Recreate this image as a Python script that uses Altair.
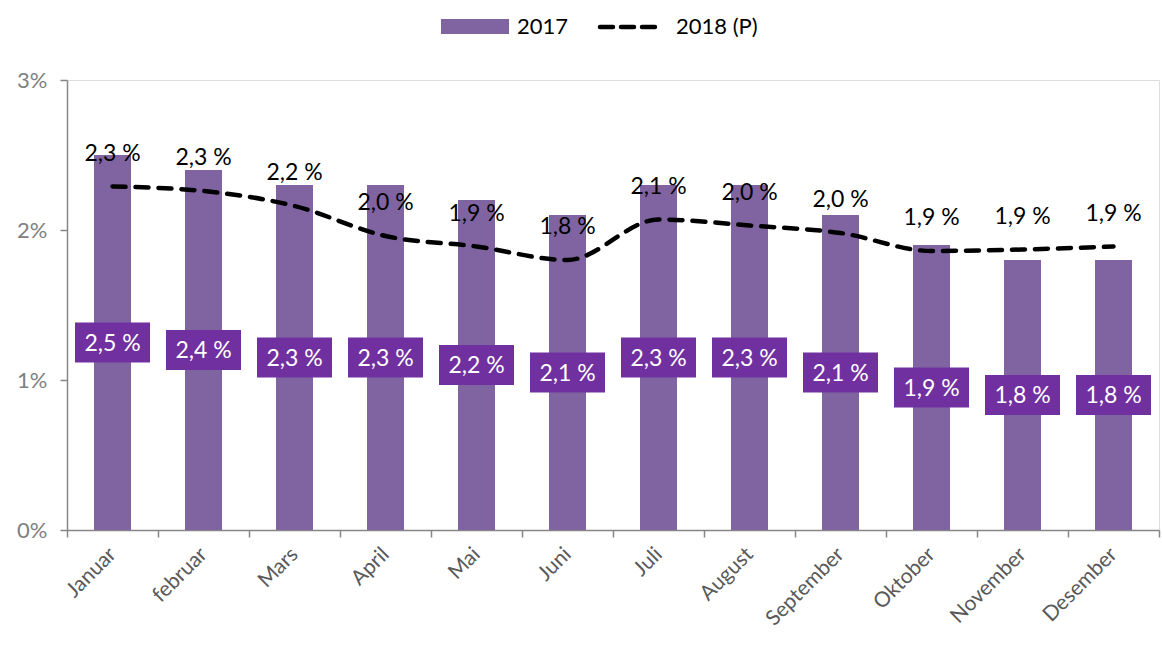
import altair as alt
import pandas as pd

months = ["Januar", "februar", "Mars", "April", "Mai", "Juni", "Juli",
          "August", "September", "Oktober", "November", "Desember"]
v2017 = [2.5, 2.4, 2.3, 2.3, 2.2, 2.1, 2.3, 2.3, 2.1, 1.9, 1.8, 1.8]
v2018 = [2.29, 2.26, 2.16, 1.96, 1.89, 1.80, 2.07, 2.03, 1.98, 1.86, 1.87, 1.89]

FONT = "Lato"
df = pd.DataFrame({"month": months, "v2017": v2017, "v2018": v2018})

x = alt.X("month:N", sort=months, title=None,
          scale=alt.Scale(paddingInner=0, paddingOuter=0),
          axis=alt.Axis(tickBand="extent", labelAngle=-45, labelAlign="right",
                        labelBaseline="middle", labelFontSize=21, labelColor="#595959",
                        labelFont=FONT, labelPadding=14, tickSize=7, tickColor="#868686",
                        domainColor="#868686", domainWidth=1.5, tickWidth=1.5))

y_scale = alt.Scale(domain=[0, 3], nice=False)
y_axis = alt.Axis(values=[0, 1, 2, 3], labelExpr="datum.value + '%'", grid=False,
                  labelFontSize=22, labelColor="#808080", labelFont=FONT, labelPadding=13,
                  tickSize=7, tickColor="#868686", domainColor="#868686",
                  domainWidth=1.5, tickWidth=1.5, title=None)

base = alt.Chart(df).transform_calculate(
    mid="datum.v2017 / 2",
    lab17="replace(format(datum.v2017, '.1f'), '.', ',') + ' %'",
    lab18="replace(format(datum.v2018, '.1f'), '.', ',') + ' %'",
)

bars = base.mark_bar(width=37, color="#8064A2").encode(
    x=x, y=alt.Y("v2017:Q", scale=y_scale, axis=y_axis))

box_path = "M-1,-0.5333H1V0.5333H-1Z"
boxes = base.mark_point(shape=box_path, size=5625, filled=True, opacity=1,
                        color="#7030A0", strokeWidth=0).encode(
    x=x, y=alt.Y("mid:Q", scale=y_scale))
box_text = base.mark_text(color="white", fontSize=23, font=FONT, baseline="middle", dy=1).encode(
    x=x, y=alt.Y("mid:Q", scale=y_scale), text="lab17:N")

line = base.mark_line(color="black", strokeWidth=4.5, strokeDash=[13, 10],
                      strokeCap="round", interpolate="monotone").encode(
    x=x, y=alt.Y("v2018:Q", scale=y_scale))
line_text = base.mark_text(color="black", fontSize=23, font=FONT, baseline="middle", dy=-33).encode(
    x=x, y=alt.Y("v2018:Q", scale=y_scale), text="lab18:N")

one = pd.DataFrame({"a": [0]})
leg_rect = alt.Chart(one).mark_rect(color="#8064A2").encode(
    x=alt.value(374), x2=alt.value(442), y=alt.value(-61), y2=alt.value(-46))
leg_t1 = alt.Chart(one).mark_text(align="left", baseline="middle", fontSize=22,
                                  font=FONT, color="black").encode(
    x=alt.value(450), y=alt.value(-53), text=alt.value("2017"))
leg_line = alt.Chart(one).mark_rule(color="black", strokeWidth=4.5, strokeDash=[13, 8],
                                    strokeCap="round").encode(
    x=alt.value(533), x2=alt.value(593), y=alt.value(-53))
leg_t2 = alt.Chart(one).mark_text(align="left", baseline="middle", fontSize=22,
                                  font=FONT, color="black").encode(
    x=alt.value(609), y=alt.value(-53), text=alt.value("2018 (P)"))

chart = alt.layer(bars, line, boxes, box_text, line_text,
                  leg_rect, leg_t1, leg_line, leg_t2).properties(
    width=1092, height=450,
    autosize=alt.AutoSizeParams(type="none"),
    padding={"left": 67, "top": 80, "right": 3, "bottom": 118},
).configure_view(stroke=None).configure(background="white")

chart.save("out.html", embed_options={"renderer": "svg", "actions": False})
